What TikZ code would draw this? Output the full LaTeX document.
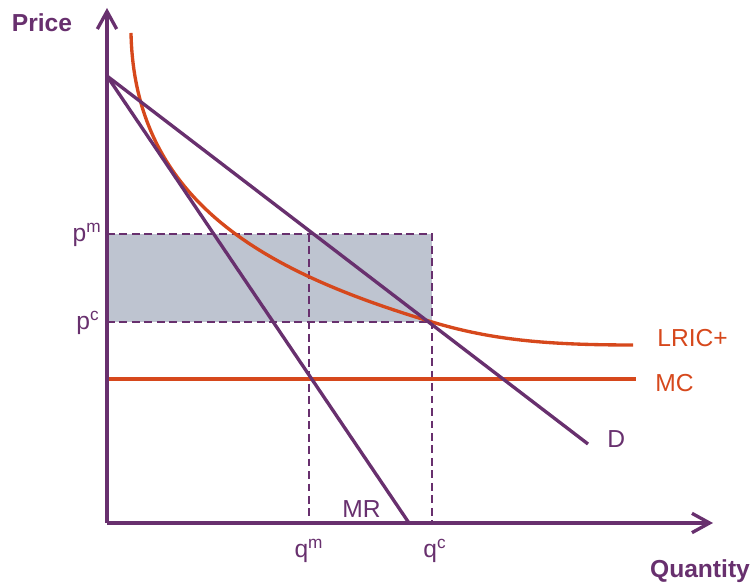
\documentclass[tikz,border=0pt]{standalone}
\usepackage{fontspec}
\setmainfont{Liberation Sans}
\usetikzlibrary{arrows.meta}
\definecolor{plum}{RGB}{104,48,110}
\definecolor{rust}{RGB}{214,72,28}
\definecolor{slate}{RGB}{190,196,208}
\tikzset{
  axis/.style={plum, line width=1.9pt, -{Straight Barb[length=10pt,width=11pt]}},
  curve/.style={plum, line width=1.9pt},
  cost/.style={rust, line width=1.9pt},
  guide/.style={plum, line width=1.5pt, dash pattern=on 4.5pt off 2.6pt},
  lbl/.style={font=\fontsize{14}{17}\selectfont, inner sep=0pt},
  title/.style={font=\fontsize{14}{17}\selectfont\bfseries, inner sep=0pt, plum}
}
\begin{document}
\begin{tikzpicture}
  \useasboundingbox (-2.14,-1.30) rectangle (12.92,10.46);
  % Key points
  \coordinate (O) at (0,0);
  \coordinate (ytop) at (0,10.30);
  \coordinate (xend) at (12.12,0);
  \coordinate (dtop) at (0,8.94);
  \coordinate (dend) at (9.62,1.58);
  \coordinate (mrend) at (6.04,0);
  \coordinate (pm) at (0,5.78);
  \coordinate (pc) at (0,4.02);
  \coordinate (qm) at (4.04,0);
  \coordinate (qc) at (6.50,0);
  \coordinate (qmtop) at (4.04,5.78);
  \coordinate (qctop) at (6.50,5.78);
  \coordinate (eqc) at (6.50,4.02);
  \coordinate (mc0) at (0,2.88);
  \coordinate (mc1) at (10.58,2.88);
  \coordinate (lric0) at (0.48,9.80);
  \coordinate (lric1) at (10.52,3.56);
  % Shaded rectangle
  \fill[slate] (pc) rectangle (qctop);
  % Dashed guides
  \draw[guide] (pm) -- (qctop) -- (qc);
  \draw[guide] (pc) -- (eqc);
  \draw[guide] (qmtop) -- (qm);
  % Cost curves
  \draw[cost] (mc0) -- (mc1);
  \draw[cost] (lric0) .. controls (0.55,6.4) and (3.2,5.01) .. (eqc)
    .. controls (7.7,3.66) and (8.8,3.56) .. (lric1);
  % Demand and marginal revenue
  \draw[curve] (dtop) -- (dend);
  \draw[curve] (dtop) -- (mrend);
  % Axes
  \draw[axis] (O) -- (ytop);
  \draw[axis] (O) -- (xend);
  % Labels
  \node[title, anchor=base] (price) at (-1.30,9.82) {Price};
  \node[title, anchor=base] (quantity) at (11.86,-1.10) {Quantity};
  \node[lbl, rust, anchor=base west] (lric) at (11.00,3.52) {LRIC+};
  \node[lbl, rust, anchor=base west] (mc) at (10.96,2.62) {MC};
  \node[lbl, plum, anchor=base west] (d) at (10.00,1.50) {D};
  \node[lbl, plum, anchor=base west] (mr) at (4.70,0.10) {MR};
  \node[lbl, plum, anchor=base east] (pmlbl) at (-0.10,5.62) {p\textsuperscript{m}};
  \node[lbl, plum, anchor=base east] (pclbl) at (-0.14,3.86) {p\textsuperscript{c}};
  \node[lbl, plum, anchor=base] (qmlbl) at (4.04,-0.70) {q\textsuperscript{m}};
  \node[lbl, plum, anchor=base] (qclbl) at (6.56,-0.70) {q\textsuperscript{c}};
\end{tikzpicture}
\end{document}
